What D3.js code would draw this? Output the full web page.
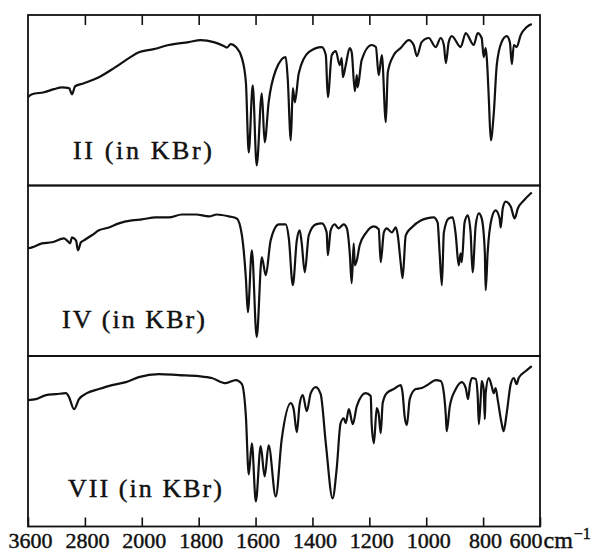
<!DOCTYPE html>
<html>
<head>
<meta charset="utf-8">
<script src="https://cdn.jsdelivr.net/npm/d3@7"></script>
<style>
  body { margin: 0; background: #fff; }
  text { font-family: "Liberation Serif", "DejaVu Serif", serif; fill: #111; stroke: #111; stroke-width: 0.45px; }
</style>
</head>
<body>
<svg width="601" height="552"></svg>
<script>
// wavenumber axis (cm-1), the scale changes at 2000
const tickWavenumbers = [3600, 2800, 2000, 1800, 1600, 1400, 1200, 1000, 800, 600]

const panelLabels = ['II (in KBr)', 'IV (in KBr)', 'VII (in KBr)']

// compound II
const iiWavenumber = [3600, 3544, 3375, 3234, 3122, 3023, 2981, 2938, 2814, 2603, 2392, 2181, 2041, 1958, 1905, 1835, 1793, 1747, 1712, 1701, 1687, 1669, 1648, 1634, 1624, 1610, 1596, 1578, 1568, 1554, 1529, 1494, 1487, 1476, 1469, 1462, 1448, 1413, 1367, 1353, 1346, 1332, 1318, 1304, 1297, 1293, 1283, 1269, 1262, 1251, 1244, 1241, 1227, 1192, 1177, 1167, 1156, 1142, 1135, 1114, 1090, 1061, 1044, 1033, 1016, 991, 967, 949, 938, 931, 921, 910, 879, 861, 833, 819, 805, 798, 791, 787, 780, 773, 763, 752, 735, 717, 706, 699, 692, 682, 668, 647, 629]
const iiTransmittance = [51.8, 53.5, 54.7, 56.5, 57.6, 57.1, 53.5, 58.2, 60.0, 63.5, 68.8, 74.7, 78.2, 80.0, 82.4, 84.1, 85.3, 84.1, 81.8, 80.9, 82.9, 81.2, 74.7, 60.6, 19.4, 58.8, 11.8, 54.1, 25.3, 48.8, 67.6, 75.3, 62.9, 26.5, 57.1, 48.8, 65.9, 78.2, 81.2, 76.5, 51.8, 76.5, 78.8, 70.6, 74.7, 63.5, 70.6, 80.6, 78.2, 55.3, 64.7, 57.6, 73.5, 82.4, 81.2, 64.7, 76.5, 37.1, 66.5, 76.5, 80.6, 85.3, 82.4, 75.9, 84.1, 86.5, 81.2, 86.5, 82.4, 71.8, 84.1, 87.6, 81.2, 89.4, 82.4, 89.4, 86.5, 75.3, 80.6, 74.7, 51.2, 26.5, 41.2, 70.6, 84.1, 87.6, 84.1, 71.2, 82.4, 81.2, 88.2, 92.9, 94.7]

// compound IV
const ivWavenumber = [3600, 3544, 3403, 3263, 3094, 3052, 3009, 2981, 2925, 2897, 2856, 2814, 2702, 2603, 2463, 2322, 2139, 2000, 1951, 1905, 1859, 1810, 1764, 1736, 1694, 1666, 1648, 1634, 1627, 1613, 1596, 1578, 1564, 1547, 1518, 1494, 1483, 1469, 1455, 1445, 1438, 1427, 1413, 1388, 1367, 1350, 1346, 1336, 1322, 1308, 1290, 1279, 1269, 1262, 1255, 1251, 1244, 1234, 1213, 1184, 1167, 1160, 1149, 1139, 1121, 1107, 1100, 1090, 1083, 1072, 1051, 1019, 998, 974, 960, 953, 945, 938, 921, 907, 896, 886, 879, 875, 865, 854, 844, 837, 826, 815, 805, 794, 791, 784, 770, 756, 742, 738, 731, 721, 703, 689, 678, 657, 629]
const ivTransmittance = [63.2, 63.7, 66.1, 66.7, 69.0, 67.8, 66.1, 69.6, 67.8, 62.0, 66.7, 67.8, 70.8, 73.7, 75.4, 77.8, 79.5, 80.1, 81.3, 81.3, 83.0, 83.0, 81.9, 83.0, 81.9, 80.7, 70.8, 45.6, 25.7, 62.0, 11.1, 57.9, 47.4, 67.8, 77.2, 77.2, 69.0, 41.5, 67.8, 73.7, 66.7, 49.1, 70.8, 77.2, 77.8, 72.5, 59.1, 73.7, 77.2, 74.9, 77.2, 74.9, 60.8, 42.7, 66.1, 53.2, 56.1, 64.9, 71.9, 76.0, 74.3, 55.0, 72.5, 74.9, 72.5, 75.4, 70.8, 55.0, 45.6, 70.8, 75.4, 79.5, 80.7, 81.3, 78.4, 60.8, 41.5, 72.5, 80.7, 81.3, 70.8, 53.2, 60.2, 55.0, 78.4, 82.5, 72.5, 49.1, 76.6, 83.6, 80.7, 60.8, 38.6, 60.8, 80.7, 85.4, 80.7, 75.4, 86.5, 90.6, 87.7, 80.7, 86.5, 91.2, 95.9]

// compound VII
const viiWavenumber = [3600, 3488, 3347, 3206, 3066, 3023, 2953, 2883, 2772, 2603, 2420, 2224, 2042, 1940, 1870, 1800, 1754, 1705, 1669, 1648, 1634, 1624, 1613, 1599, 1582, 1568, 1554, 1529, 1508, 1476, 1466, 1455, 1445, 1434, 1420, 1406, 1388, 1371, 1353, 1329, 1315, 1301, 1290, 1283, 1272, 1258, 1244, 1213, 1195, 1192, 1184, 1174, 1167, 1160, 1153, 1139, 1114, 1090, 1083, 1076, 1068, 1058, 1037, 1016, 991, 967, 949, 938, 931, 928, 917, 896, 875, 861, 853, 846, 839, 826, 819, 815, 808, 805, 798, 794, 791, 780, 770, 763, 756, 749, 735, 728, 717, 703, 692, 682, 675, 650, 629]
const viiTransmittance = [74.1, 74.7, 77.1, 77.6, 78.2, 75.9, 68.8, 74.7, 78.2, 80.6, 82.9, 84.7, 87.6, 89.4, 88.8, 88.2, 87.1, 84.1, 85.9, 83.5, 64.7, 30.6, 48.8, 14.7, 47.1, 29.4, 47.6, 17.6, 51.2, 72.4, 68.8, 55.3, 71.8, 77.1, 67.6, 78.2, 81.8, 77.6, 48.8, 16.5, 33.5, 60.6, 63.5, 60.6, 68.8, 60.0, 70.6, 78.2, 76.5, 60.6, 48.8, 69.4, 65.9, 54.7, 72.4, 78.2, 80.6, 82.9, 78.2, 64.7, 59.4, 74.7, 80.6, 81.2, 83.5, 85.9, 85.3, 78.2, 64.7, 55.9, 70.6, 80.6, 84.7, 81.2, 74.7, 83.5, 87.1, 86.5, 76.5, 60.0, 76.5, 85.3, 80.6, 62.9, 78.2, 87.1, 82.4, 78.2, 81.2, 74.7, 60.6, 55.9, 66.5, 83.5, 87.1, 83.5, 87.1, 91.2, 94.1]

const svg = d3.select('svg')
const frameLeft = 28,
  frameRight = 540,
  frameTop = 15,
  panelH = 170.5

svg.append('rect').attr('width', 601).attr('height', 552).attr('fill', '#fff')

const step = (frameRight - frameLeft) / (tickWavenumbers.length - 1)
const x = d3
  .scaleLinear()
  .domain(tickWavenumbers)
  .range(tickWavenumbers.map((d, i) => frameLeft + i * step))

const spectra = [
  { wn: iiWavenumber, t: iiTransmittance },
  { wn: ivWavenumber, t: ivTransmittance },
  { wn: viiWavenumber, t: viiTransmittance }
]

// label placement: [x, baseline, width]
const labelBox = [
  [73, 159, 139],
  [62, 328, 143],
  [68, 497, 154]
]

spectra.forEach((s, i) => {
  const y0 = frameTop + i * panelH
  const y = d3.scaleLinear().domain([0, 100]).range([y0 + panelH, y0])

  svg
    .append('rect')
    .attr('x', frameLeft)
    .attr('y', y0)
    .attr('width', frameRight - frameLeft)
    .attr('height', panelH)
    .attr('fill', 'none')
    .attr('stroke', '#111')
    .attr('stroke-width', 1.8)

  const line = d3
    .line()
    .x(j => x(s.wn[j]))
    .y(j => y(s.t[j]))
    .curve(d3.curveMonotoneX)

  svg
    .append('path')
    .datum(d3.range(s.wn.length))
    .attr('d', line)
    .attr('fill', 'none')
    .attr('stroke', '#111')
    .attr('stroke-width', 2.2)
    .attr('stroke-linejoin', 'round')

  svg
    .append('text')
    .attr('x', labelBox[i][0])
    .attr('y', labelBox[i][1])
    .attr('textLength', labelBox[i][2])
    .attr('lengthAdjust', 'spacing')
    .style('font-size', '26px')
    .text(panelLabels[i])
})

// inward ticks on the top edge
svg
  .append('g')
  .attr('transform', `translate(0,${frameTop})`)
  .call(
    d3
      .axisBottom(x)
      .tickValues(tickWavenumbers.slice(1, -1))
      .tickSize(10)
      .tickFormat('')
  )
  .call(g => g.select('.domain').remove())
  .call(g => g.selectAll('line').attr('stroke', '#111').attr('stroke-width', 1.6))

// inward ticks and labels on the bottom edge
const bottomAxis = svg
  .append('g')
  .attr('transform', `translate(0,${frameTop + 3 * panelH})`)
  .call(
    d3
      .axisBottom(x)
      .tickValues(tickWavenumbers)
      .tickSizeInner(-9)
      .tickSizeOuter(0)
      .tickPadding(6)
      .tickFormat(d3.format('d'))
  )
  .call(g => g.select('.domain').remove())
  .call(g => g.selectAll('line').attr('stroke', '#111').attr('stroke-width', 1.6))

bottomAxis
  .selectAll('text')
  .attr('fill', '#111')
  .attr('dx', 2)
  .style('font-size', '22px')
  .style('font-family', '"Liberation Serif", serif')

const lastLabel = bottomAxis.selectAll('.tick text').filter(d => d === 600)
lastLabel.attr('text-anchor', 'start').attr('x', -31).attr('dx', 0).text('600')
lastLabel.append('tspan').attr('dx', 1).style('font-size', '24px').text('cm')
lastLabel
  .append('tspan')
  .attr('dx', 1)
  .attr('dy', '-0.6em')
  .style('font-size', '16px')
  .text('\u22121')
</script>
</body>
</html>
